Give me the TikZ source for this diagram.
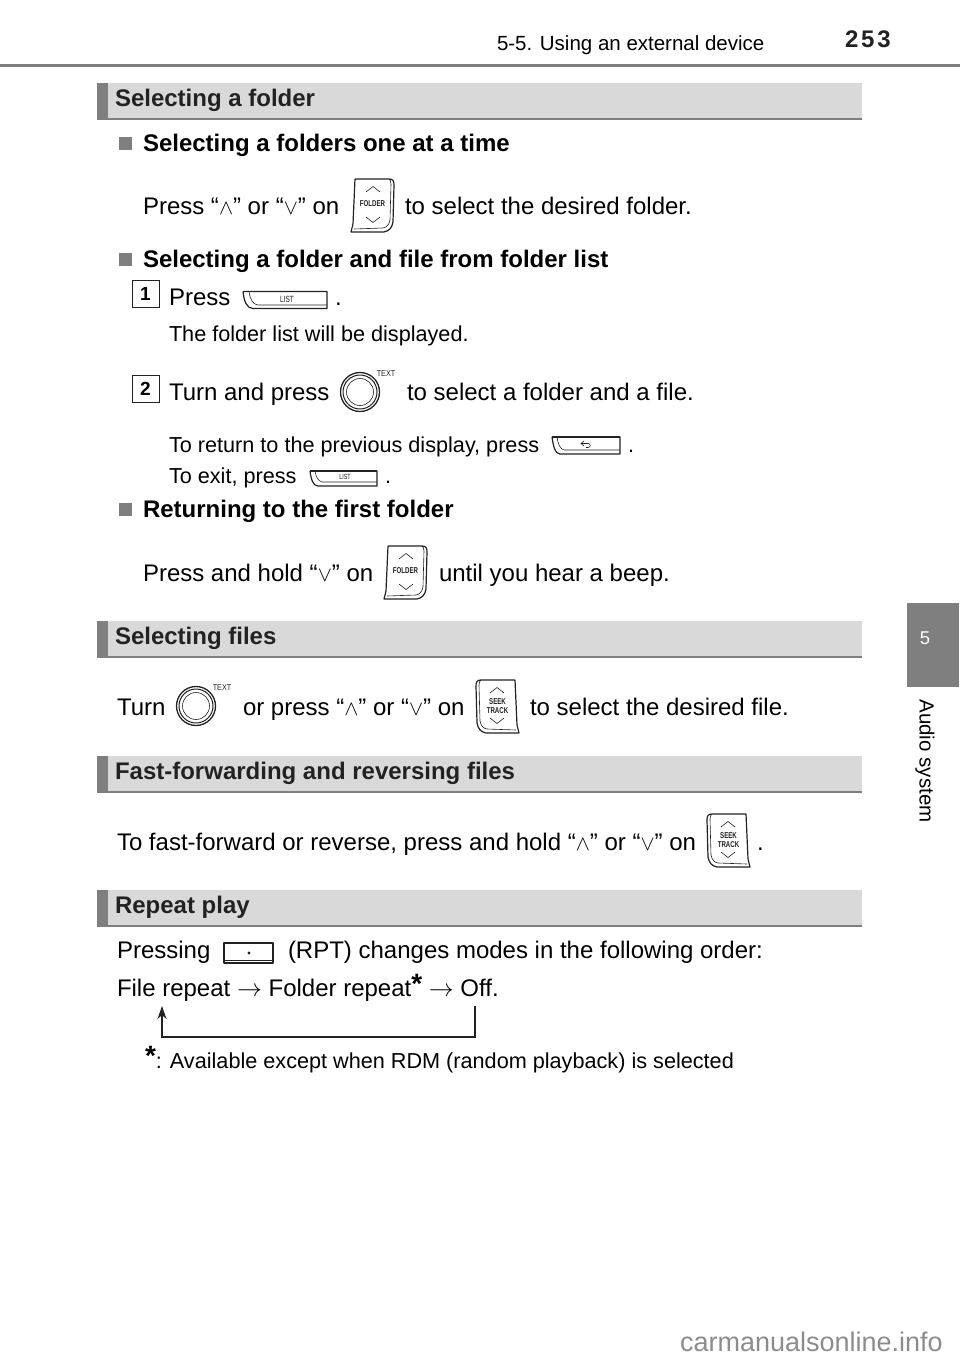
\documentclass[tikz,border=0pt]{standalone}
\usepackage{fontspec}
\setmainfont{Liberation Sans}
\usetikzlibrary{arrows.meta}
\definecolor{bandgray}{HTML}{D9D9D9}
\definecolor{darkgray}{HTML}{7F7F7F}
\definecolor{inkgray}{HTML}{222222}
\newcommand{\up}{\scalebox{.85}{$\wedge$}}
\newcommand{\dn}{\scalebox{.85}{$\vee$}}
\newcommand{\body}{\fontsize{24}{29}\selectfont}
\newcommand{\minor}{\fontsize{21.65}{26}\selectfont}
\newcommand{\starmark}{\raisebox{.1em}{\fontsize{28}{28}\selectfont\bfseries*}}
\newcommand{\narrow}[1]{\scalebox{.72}[1]{#1}}
\tikzset{
  x=1pt,y=-1pt,
  txt/.style={anchor=base west,inner sep=0pt,outer sep=0pt,text=black,font=\body,yshift=0.8pt},
  small/.style={txt,font=\minor,yshift=-0.8pt},
  head/.style={txt,font=\fontsize{24}{29}\selectfont\bfseries,text=inkgray},
  sub/.style={txt,font=\fontsize{24}{29}\selectfont\bfseries},
  bullet/.style={fill=darkgray,draw=none},
  band/.style={fill=bandgray,draw=none},
  barpart/.style={fill=darkgray,draw=none},
  numbox/.style={draw=inkgray,line width=0.9pt,minimum width=27pt,minimum height=27pt,inner sep=0pt,font=\fontsize{19}{20}\selectfont\bfseries},
  btn/.style={draw=inkgray,line width=1.2pt,fill=white,line join=round},
  thin/.style={draw=inkgray,line width=0.6pt},
  microlabel/.style={inner sep=0pt,outer sep=0pt,text=inkgray,font=\fontsize{8.5}{9}\selectfont\bfseries},
  pics/rocker/.style args={#1/#2/#3/#4}{code={
    \draw[btn] (4,1) -- (38,1) .. controls (42,1) and (43,3) .. (43,7) -- (42,44) .. controls (41,50) and (38,53) .. (33,54) -- (0,54) -- (2,46) -- (4,1);
    \draw[thin] (38,1) .. controls (39,2) and (40,3) .. (40,6) -- (39,42) .. controls (38,47) and (36,49) .. (32,50) -- (3,51);
    \draw[thin] (15,14) -- (22,8.5) -- (29,14);
    \draw[thin] (15,39) -- (22,44.5) -- (29,39);
    \node[microlabel] (-a) at (21.5,#3) {\narrow{#1}};
    \node[microlabel] (-b) at (21.5,#4) {\narrow{#2}};
  }},
  pics/listbtn/.style={code={
    \draw[btn] (0,0) -- (84,0) -- (84,17) -- (10,17) .. controls (4,17) and (1,10) .. (0,0);
    \draw[thin] (6,0) .. controls (7,8) and (10,13) .. (15,13.5) -- (84,13.5);
    \draw[line width=1.5pt,draw=inkgray] (0,0) -- (84,0);
    \node[microlabel,font=\fontsize{9}{9}\selectfont] (-t) at (44,7.5) {\narrow{LIST}};
  }},
  pics/smalllist/.style={code={
    \draw[btn] (0,0) -- (67,0) -- (67,15) -- (8,15) .. controls (3,15) and (1,8) .. (0,0);
    \draw[thin] (5,0) .. controls (6,6) and (8,10) .. (12,11) -- (67,11);
    \draw[line width=1.4pt,draw=inkgray] (0,0) -- (67,0);
    \node[microlabel,font=\fontsize{7.5}{8}\selectfont] (-t) at (35,6) {\narrow{LIST}};
  }},
  pics/backbtn/.style={code={
    \draw[btn] (0,0) -- (68,0) -- (68,17) -- (8,17) .. controls (3,17) and (1,8) .. (0,0);
    \draw[thin] (5,0) .. controls (6,7) and (8,12) .. (12,13) -- (68,13);
    \draw[line width=1.4pt,draw=inkgray] (0,0) -- (68,0);
    \draw[thin] (32,4) -- (29,6.5) -- (32,9);
    \draw[thin] (29,6.5) -- (36,6.5) .. controls (39,6.5) and (39,10.5) .. (36,10.5) -- (34,10.5);
  }},
  pics/knob/.style={code={
    \draw[draw=inkgray,line width=1.3pt,fill=white] (0,0) circle (19.5);
    \draw[draw=inkgray,line width=1pt] (0,0) circle (17);
    \draw[draw=inkgray,line width=0.6pt] (0,0) circle (13.5);
    \node[microlabel,font=\fontsize{8.5}{9}\selectfont] (-t) at (26,-18) {\scalebox{.85}[1]{TEXT}};
  }},
  pics/rptbtn/.style={code={
    \draw[btn] (0,0) -- (49,0) -- (49,20) -- (0,20) -- cycle;
    \draw[thin] (0,17) -- (49,17);
    \fill[inkgray] (25,10) circle (1.7);
  }},
}
\begin{document}
\begin{tikzpicture}
\useasboundingbox (0,0) rectangle (960,1360);
% running head
\fill[darkgray] (0,64) rectangle (960,67);
\node[txt,font=\fontsize{20.5}{26}\selectfont] (runhead) at (497,51.3) {5-5. Using an external device};
\node[txt,font=\fontsize{24}{26}\selectfont\bfseries,text=inkgray] (pageno) at (845,47.8) {\addfontfeatures{LetterSpace=12}253};
% side tab
\fill[darkgray] (907,603) rectangle (959,687);
\node[inner sep=0pt,text=white,font=\fontsize{18.5}{20}\selectfont] (tabnum) at (925,638) {5};
\node[inner sep=0pt,rotate=-90,font=\fontsize{20.5}{24}\selectfont] (tabtitle) at (925,761) {Audio system};
% section bands
\foreach \y/\name/\t in {83/a/Selecting a folder,621/b/Selecting files,756/c/Fast-forwarding and reversing files,890/d/Repeat play}{
  \fill[band] (97,\y) rectangle (862,\y+36);
  \fill[barpart] (97,\y) rectangle (108,\y+36);
  \fill[barpart] (97,\y+34.5) rectangle (862,\y+37);
  \node[head] (band\name) at (115,\y+24) {\t};
}
% selecting a folder
\fill[bullet] (119,137) rectangle (132,150);
\node[sub] (s1) at (143,152) {Selecting a folders one at a time};
\node[txt] (l1a) at (143,215) {Press “\up” or “\dn” on};
\pic (f1) at (351,178) {rocker={FOLDER}/{}/26/30};
\node[txt] (l1b) at (405,215) {to select the desired folder.};
\fill[bullet] (119,253) rectangle (132,266);
\node[sub] (s2) at (143,268) {Selecting a folder and file from folder list};
\node[numbox] (n1) at (145.5,293.5) {1};
\node[txt] (l2a) at (169,306) {Press};
\pic (lb1) at (243,291.5) {listbtn};
\node[txt] (l2b) at (335,306) {.};
\node[small] (l3) at (169,341) {The folder list will be displayed.};
\node[numbox] (n2) at (145.5,388.5) {2};
\node[txt] (l4a) at (169,401) {Turn and press};
\pic (k1) at (360,392) {knob};
\node[txt] (l4b) at (407,401) {to select a folder and a file.};
\node[small] (l5a) at (169,452) {To return to the previous display, press};
\pic (bb) at (552,437) {backbtn};
\node[small] (l5b) at (628,452) {.};
\node[small] (l6a) at (169,483) {To exit, press};
\pic (lb2) at (310,471) {smalllist};
\node[small] (l6b) at (385,483) {.};
\fill[bullet] (119,503) rectangle (132,516);
\node[sub] (s3) at (143,518) {Returning to the first folder};
\node[txt] (l7a) at (143,582) {Press and hold “\dn” on};
\pic (f2) at (384,545) {rocker={FOLDER}/{}/26/30};
\node[txt] (l7b) at (439,582) {until you hear a beep.};
% selecting files
\node[txt] (l8a) at (117,716) {Turn};
\pic (k2) at (196,706) {knob};
\node[txt] (l8b) at (243,716) {or press “\up” or “\dn” on};
\pic[xscale=-1] (t1) at (519,679) {rocker=SEEK/TRACK/23/32};
\node[txt] (l8c) at (530,716) {to select the desired file.};
% ff
\node[txt] (l9a) at (117,851) {To fast-forward or reverse, press and hold “\up” or “\dn” on};
\pic[xscale=-1] (t2) at (750,813) {rocker=SEEK/TRACK/23/32};
\node[txt] (l9b) at (757,851) {.};
% repeat
\node[txt] (l10a) at (117,959) {Pressing};
\pic (r1) at (224,943) {rptbtn};
\node[txt] (l10b) at (288,959) {(RPT) changes modes in the following order:};
\node[txt] (l11) at (117,997) {File repeat $\rightarrow$ Folder repeat\starmark{} $\rightarrow$ Off.};
\coordinate (loopstart) at (475,1006);
\coordinate (loopa) at (475,1037);
\coordinate (loopb) at (162,1037);
\coordinate (loopend) at (162,1006);
\draw[line width=1.2pt,draw=inkgray,-{Stealth[length=13pt,width=9pt,inset=4pt]}] (loopstart) -- (loopa) -- (loopb) -- (loopend);
\node[small] (foot) at (145,1068) {\starmark: Available except when RDM (random playback) is selected};
\node[txt,text=black!45,font=\fontsize{27}{28}\selectfont] (wm) at (680,1352) {carmanualsonline.info};
\end{tikzpicture}
\end{document}
